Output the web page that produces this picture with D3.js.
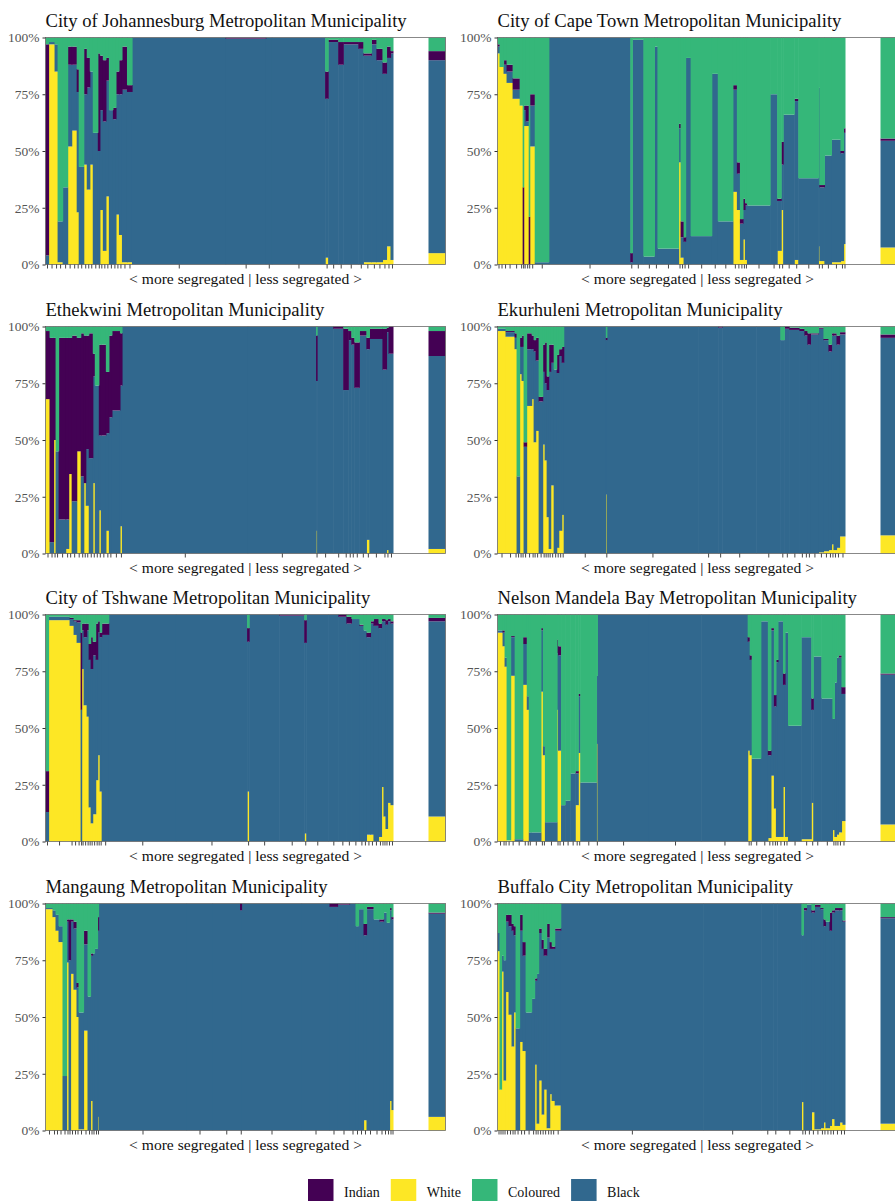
<!DOCTYPE html>
<html lang="en">
<head>
  <meta charset="utf-8">
  <title>Ward racial composition, sorted by segregation</title>
  <script src="https://d3js.org/d3.v7.min.js"></script>
  <style>
    body { margin: 0; background: #fff; }
    svg text { font-family: "Liberation Serif", "DejaVu Serif", serif; }
  </style>
</head>
<body>
<svg id="chart" width="895" height="1201"></svg>
<script>
// stacking order, bottom to top
var races = ["White", "Black", "Indian", "Coloured"];
var legendOrder = ["Indian", "White", "Coloured", "Black"];
var raceColour = { Indian: "#440154", White: "#fde725", Coloured: "#35b779", Black: "#31688e" };

var municipalities = [
  "City of Johannesburg Metropolitan Municipality",
  "City of Cape Town Metropolitan Municipality",
  "Ethekwini Metropolitan Municipality",
  "Ekurhuleni Metropolitan Municipality",
  "City of Tshwane Metropolitan Municipality",
  "Nelson Mandela Bay Metropolitan Municipality",
  "Mangaung Metropolitan Municipality",
  "Buffalo City Metropolitan Municipality"
];

// one row per ward: [population weight, % white, % black, % indian]  (coloured = the rest)
var johannesburg = [
  [3,0,4,93],[6,97,1,0],[3,85,12,0],[5,1,18,0],[5,0,34,0],[4,52,36,8],[5,59,29,8],[2,23,53,10],
  [5,0,43,0],[3,44,31,20],[3,33,45,13],[3,44,41,0],[5,0,58,0],[2,0,50,43],[3,24,44,24],[3,6,57,27],
  [3,30,51,10],[4,0,68,0],[3,0,64,5],[3,22,53,10],[3,13,62,15],[5,1,76,19],[5,1,75,3],
  [93,0,100,0],[40,0,99.5,0.5],[6,0,100,0],[53,0,100,0],
  [3,3,70,12],[10,0,98,1],[5,0,88,10],[15,0,97,1],[5,0,95,3],[8,1,91,1],[5,1,96,2],[6,1,89,5],
  [4,2,82,5],[4,8,83,5],[3,2,91,1]
];
var capeTown = [
  [2,93,3,1],[4,87,0,0],[3,84,4,2],[6,80,5,3],[7,73,4,5],[3,70,0,0],[1,0,0,34],[2,61,7,2],
  [3,61,2,7],[1,0,0,21],[5,52,18,5],[14,0,1,0],
  [81,0,100,0],
  [2,0,1,4],[11,0,99,0],[11,0,3.5,0],[3,0,96,0],[21,0,7,0],[2,45,15,2],[3,3,9,7],[2,0,10,2],
  [5,0,91,0],[21,0,12.5,0],[6,0,84,0],[15,0,19,0],[4,32,45,2],[3,24,16,5],[3,2,16,2],[2,11,13,5],
  [2,2,24,1],[23,0,26,0],[7,0,75,0],[4,6,22,1],[2,24,20,10],[11,0,66,0],[4,2,70,1],[20,0,38,0],
  [1,8,70,0],[5,1.5,32.5,1],[7,0,48,0],[9,1,54,0],[3,1.5,47.5,1],[2,9,49,2]
];
var ethekwini = [
  [4,68,0,30],[4,0,5,90],[2,50,0,45],[3,0,45,0],[7,0,15,80],[3,2,13,80],[3,35,0,60],[5,0,23,73],
  [4,45,0,50],[3,0,34,63],[2,31,0,65],[3,21,25,50],[4,0,42,55],[2,31,47,10],[4,0,74,0],[2,19,33,40],
  [5,0,52,40],[3,10,43,27],[3,0,60,36],[8,0,63,35],[2,12,62,23],
  [125,0,100,0],[68,0,100,0],
  [1,10,66,20],[16,0,100,0],[10,0,99,1],[5,0,72,27],[3,0,94,4],[3,0,92,3],[5,0,73,20],[7,0,96,2],
  [3,6,84,5],[13,0,94.5,4.5],[4,0,81,18],[2,1.5,96,2],[5,0,88,12]
];
var ekurhuleni = [
  [8,98,1,0],[9,95.5,2,0.5],[2,90,5,2],[3,0,34,0],[2,79,12,4],[2,76,15,5],[3,0,47,2],[5,65,25,7],
  [2,68,22,6],[2,49,40,5],[3,54,31,10],[4,0,67,2],[2,48,32,12],[2,41,34,18],[2,16,56,6],[2,2,78,12],
  [3,30,54,8],[3,0,81,0],[2,2.5,77,8],[3,10,77,3],[2,17,67,7],
  [42,0,100,0],[1,26,68,1],[91,0,100,0],[20,0,100,0],[4,0,99.5,0.5],[34,0,100,0],[24,0,100,0],
  [4,0,94,0],[5,0,99,1],[10,0,98.5,1],[5,0,98,1],[3,0,96,2],[3,0,92,5],[8,0,96.5,0.5],[5,0.5,98.5,0.5],
  [5,1,93,0.5],[3,1.5,87.5,3],[2,4,92,1],[3,1.5,94.5,1],[3,2.5,89.5,4],[6,7.5,89,1]
];
var tshwane = [
  [3,0,13,18],[21,97.5,1.5,0],[4,95,3,0.5],[3,91,6,0.5],[4,87.5,9,1],[1,0,58,34],[2,76,17,3],[3,60,30,6],
  [2,55,38,3],[2,15,65,7],[2,8,68,14],[3,12,70,6],[2,27,53,16],[2,38,54,5],[2,22,68,2],[7,0,91,5],
  [67,0,100,0],[71,0,100,0],[2,22,66,6],[30,0,100,0],[25,0,99.5,0.5],[2,3.5,84,10],[22,0,100,0],[10,0,100,0],
  [8,0,99,1],[5,0,96,3],[8,0,98,0],[4,0,95,0.5],[3,0,93,0],[4,3,87,2],[3,3,93,1],[5,0,95,3],
  [3,2,92,2],[2,24,73,1],[2,11,86,1],[2,5.5,90,2],[3,17,80,1],[3,16,80,1]
];
var nelsonMandelaBay = [
  [5,92,1,0],[2,86,6,1],[2,77,4,0],[4,0.5,0,0],[4,73,17,0.5],[8,0,1,0],[4,69,18,3],[2,58,6,0],
  [2,0,4,0],[10,0,4,0],[2,66,27,1],[2,38,4,0],[12,0,8.5,0],[1,58,25,6],[3,40,42,4],[4,0,16,0],
  [5,0,18,0],[5,0,30,0],[3,16,14,1],[2,39,25,1],[16,0,26,0],[1,43,30,0],
  [51,0,100,0],[52,0,100,0],[46,0,100,0],
  [2,40,48,2],[2,38,42,2],[9,0,36.5,0],[7,0,97,0],[3,1.5,36.5,2],[3,29,64,1],[2,14.5,45,5],[2,2,77,1],
  [5,2,95,0],[2,24,45,5],[3,2,90,0],[13,0,51,0],[10,1,89,0],[2,17,41,5],[8,0,81.5,0],[11,0,63,0],
  [2,5,49,0],[2,2,68,0],[2,3,78,0],[3,4,77,1],[4,9,56,3]
];
var mangaung = [
  [7,97.5,0.5,0],[3,94,3,0],[3,88,7,0],[4,83,7,0],[4,0,24,0],[2,74,18,1],[2,0,75,18],[3,69,23,1],
  [3,62,27,3],[2,50,13,2],[5,0.5,51.5,0],[4,44,38,6],[3,0,59,0],[2,13,64,1],[2,0,78,0],[3,0,80,0],[1,6,82,6],
  [88,0,100,0],[26,0,100,0],[27.5,0,100,0],[1.5,0,97,3],[60,0,100,0],[28,0,100,0],[8,0,98.5,1.5],
  [12,0,99.5,0.5],[6,0,100,0],
  [3,0,90,0],[5,0,97.5,0],[3,4.5,81.5,5],[7,0,97.5,1],[6,0,93,0],[4,0,92,1],[3,0,96,0],[3,0,91.5,0],
  [2,13,84,1],[2,9,84,1]
];
var buffaloCity = [
  [2,79,8,0],[2,18,0,0],[2,70,7,0],[2,22,53,0],[3,61,31,3],[3,51,39,5],[2,37,51,3],[2,52,34,4],
  [4,0,45,0],[3,39,49,7],[3,35,42,6],[6,0,52,0],[3,0,58,0],[2,29,37,1],[2,3,66,0],[3,22,65,2],
  [2,7,73,4],[3,18,59,3],[3,1,84,6],[2,16,64,3],[3,13,67,1],[6,11,77,1],
  [142,0,100,0],[58,0,100,0],[12,0,100,0],[4,0,100,0],[24,0,100,0],
  [2,12.5,73.5,0],[3,0,97,1],[5,0,99.5,0],[3,8,88,1],[6,0.5,98,1],[3,1,96.5,0.5],[2,3.5,86.5,3],
  [4,1,91,0],[2,2,86,8],[3,5,91,1],[5,2,95,1],[3,3.5,93.5,1],[3,2.5,89.5,0.5]
];
var wardLists = [johannesburg, capeTown, ethekwini, ekurhuleni, tshwane, nelsonMandelaBay, mangaung, buffaloCity];

// whole-municipality composition: [% white, % black, % indian]
var cityTotals = [[5,85,4],[7.5,47,1],[2,85,11],[8,87,1.5],[11,86,1.5],[7.5,66,0.5],[6,89.5,0.5],[3,90.5,0.5]];

var yTicks = [0, 25, 50, 75, 100];

var svg = d3.select("#chart");
var colX = [45.5, 497.5],
    rowY = [37.5, 326.5, 614.5, 903.5],
    mainW = 348, gapW = 35, sumW = 17, plotH = 227,
    fullW = mainW + gapW + sumW;

var y = d3.scaleLinear().domain([0, 100]).range([plotH, 0]);

function toShares(r) {
  return { White: r[0], Black: r[1], Indian: r[2], Coloured: Math.max(0, 100 - r[0] - r[1] - r[2]) };
}

var stack = d3.stack().keys(races);

municipalities.forEach(function(name, i) {
  var g = svg.append("g")
      .attr("transform", "translate(" + colX[i % 2] + "," + rowY[Math.floor(i / 2)] + ")");

  var pos = 0;
  var rows = wardLists[i].map(function(r) {
    var d = toShares(r.slice(1));
    d.x0 = pos; d.x1 = pos + r[0]; pos += r[0];
    return d;
  });
  var x = d3.scaleLinear().domain([0, pos]).range([0, mainW]);

  // ward bars (slight overlap so neighbours don't leave white seams)
  g.append("g").selectAll("g")
    .data(stack(rows))
    .enter().append("g")
      .attr("fill", function(s) { return raceColour[s.key]; })
    .selectAll("rect")
    .data(function(s) { return s; })
    .enter().append("rect")
      .attr("x", function(d) { return x(d.data.x0); })
      .attr("width", function(d) { return Math.min(mainW - x(d.data.x0), x(d.data.x1) - x(d.data.x0) + 0.6); })
      .attr("y", function(d) { return y(d[1]); })
      .attr("height", function(d) { return y(d[0]) - y(d[1]); });

  // whole city bar
  var tot = stack([toShares(cityTotals[i])]);
  g.append("g").selectAll("rect")
    .data(tot)
    .enter().append("rect")
      .attr("x", mainW + gapW)
      .attr("width", sumW)
      .attr("y", function(s) { return y(s[0][1]); })
      .attr("height", function(s) { return y(s[0][0]) - y(s[0][1]); })
      .attr("fill", function(s) { return raceColour[s.key]; });

  // panel border
  g.append("rect")
      .attr("width", fullW).attr("height", plotH)
      .attr("fill", "none").attr("stroke", "#6b6b6b").attr("stroke-width", 0.8);

  var mids = rows.map(function(d) { return (d.x0 + d.x1) / 2; });
  var xAxis = g.append("g")
      .attr("transform", "translate(0," + plotH + ")")
      .call(d3.axisBottom(x).tickValues(mids).tickFormat("").tickSize(4).tickSizeOuter(0));
  xAxis.select(".domain").remove();
  xAxis.selectAll(".tick line").attr("stroke", "#333").attr("stroke-width", 0.9);

  var yAxis = g.append("g")
      .call(d3.axisLeft(y).tickValues(yTicks).tickFormat(function(d) { return d + "%"; }).tickSize(3).tickPadding(3));
  yAxis.select(".domain").remove();
  yAxis.selectAll(".tick line").attr("stroke", "#333");
  yAxis.selectAll(".tick text")
      .attr("fill", "#555")
      .style("font-size", "13.5px")
      .style("font-family", "'Liberation Serif', serif");

  g.append("text")
      .attr("x", 0).attr("y", -11)
      .attr("fill", "#111")
      .style("font-size", "18.6px")
      .text(name);

  g.append("text")
      .attr("x", fullW / 2).attr("y", plotH + 19.5)
      .attr("text-anchor", "middle")
      .attr("fill", "#111")
      .style("font-size", "15.6px")
      .text("< more segregated | less segregated >");
});

// legend
var legend = svg.append("g").attr("transform", "translate(308,1179)");
var lx = 0;
legendOrder.forEach(function(r) {
  legend.append("rect")
      .attr("x", lx).attr("y", 0)
      .attr("width", 25.5).attr("height", 25.5)
      .attr("fill", raceColour[r]);
  var t = legend.append("text")
      .attr("x", lx + 36).attr("y", 18)
      .attr("fill", "#111")
      .style("font-size", "14px")
      .text(r);
  lx += 36 + t.node().getComputedTextLength() + 11;
});
</script>
</body>
</html>
